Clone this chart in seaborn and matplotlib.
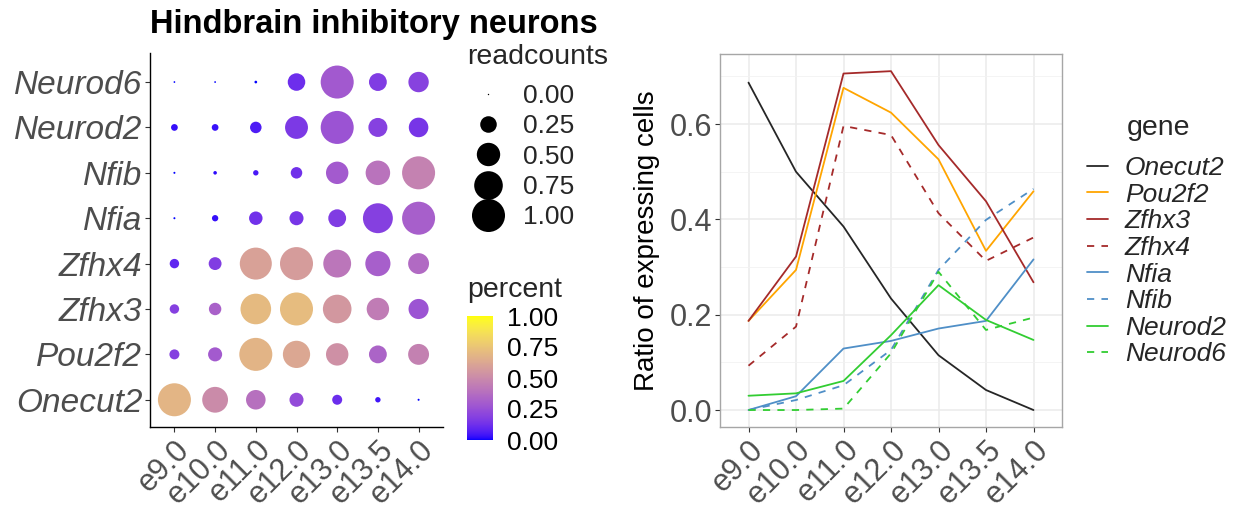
import numpy as np
import pandas as pd
import matplotlib
matplotlib.use("Agg")
import matplotlib.pyplot as plt
import seaborn as sns
from matplotlib.colors import ListedColormap, Normalize
from matplotlib.cm import ScalarMappable
from matplotlib.lines import Line2D
from matplotlib.ticker import FixedLocator

# ---------------- data ----------------
stages = ["e9.0", "e10.0", "e11.0", "e12.0", "e13.0", "e13.5", "e14.0"]
genes = ["Onecut2", "Pou2f2", "Zfhx3", "Zfhx4", "Nfia", "Nfib", "Neurod2", "Neurod6"]

# ratio of expressing cells (right panel; also the "percent" colour on the left)
ratio_onecut2 = [0.687, 0.500, 0.385, 0.234, 0.115, 0.042, 0.000]
ratio_pou2f2 = [0.187, 0.294, 0.676, 0.624, 0.526, 0.334, 0.459]
ratio_zfhx3 = [0.187, 0.322, 0.706, 0.711, 0.556, 0.438, 0.268]
ratio_zfhx4 = [0.093, 0.175, 0.596, 0.577, 0.413, 0.313, 0.362]
ratio_nfia = [0.000, 0.029, 0.129, 0.145, 0.171, 0.187, 0.316]
ratio_nfib = [0.000, 0.021, 0.052, 0.126, 0.294, 0.399, 0.464]
ratio_neurod2 = [0.030, 0.035, 0.061, 0.157, 0.262, 0.189, 0.147]
ratio_neurod6 = [0.000, 0.000, 0.003, 0.119, 0.290, 0.168, 0.194]

# scaled read counts (dot size on the left)
reads_onecut2 = [1.00, 0.61, 0.35, 0.18, 0.09, 0.025, 0.002]
reads_pou2f2 = [0.09, 0.18, 1.00, 0.68, 0.46, 0.29, 0.40]
reads_zfhx3 = [0.08, 0.14, 0.86, 1.00, 0.75, 0.46, 0.37]
reads_zfhx4 = [0.08, 0.15, 0.94, 1.00, 0.71, 0.58, 0.40]
reads_nfia = [0.002, 0.035, 0.165, 0.18, 0.29, 0.82, 1.00]
reads_nfib = [0.002, 0.01, 0.025, 0.12, 0.46, 0.55, 1.00]
reads_neurod2 = [0.04, 0.04, 0.12, 0.48, 1.00, 0.33, 0.35]
reads_neurod6 = [0.001, 0.001, 0.005, 0.28, 1.00, 0.29, 0.38]

size_legend_values = [0.00, 0.25, 0.50, 0.75, 1.00]
percent_ticks = [0.00, 0.25, 0.50, 0.75, 1.00]
ratio_ticks = [0.0, 0.2, 0.4, 0.6]

ratios = [ratio_onecut2, ratio_pou2f2, ratio_zfhx3, ratio_zfhx4,
          ratio_nfia, ratio_nfib, ratio_neurod2, ratio_neurod6]
reads = [reads_onecut2, reads_pou2f2, reads_zfhx3, reads_zfhx4,
         reads_nfia, reads_nfib, reads_neurod2, reads_neurod6]

df = pd.DataFrame({
    "gene": pd.Categorical(np.repeat(genes, len(stages)), categories=genes),
    "stage": pd.Categorical(stages * len(genes), categories=stages),
    "percent": np.concatenate(ratios),
    "readcounts": np.concatenate(reads),
})
df_line = pd.DataFrame({
    "gene": np.repeat(genes, len(stages)),
    "stage": stages * len(genes),
    "ratio": np.concatenate(ratios),
})

# ---------------- style ----------------
sns.set_theme(style="white")
plt.rcParams["font.family"] = ["Liberation Sans", "DejaVu Sans"]

W, H = 1247, 511
fig = plt.figure(figsize=(W / 100, H / 100), dpi=100)


def fbox(x0, y0, x1, y1):
    return [x0 / W, 1 - y1 / H, (x1 - x0) / W, (y1 - y0) / H]


# Lab-interpolated blue -> yellow gradient (like ggplot scale_colour_gradient)
_M = np.array([[0.4124564, 0.3575761, 0.1804375],
               [0.2126729, 0.7151522, 0.0721750],
               [0.0193339, 0.1191920, 0.9503041]])
_WP = np.array([0.95047, 1.0, 1.08883])


def srgb_to_lab(rgb):
    rgb = np.asarray(rgb, float)
    lin = np.where(rgb <= 0.04045, rgb / 12.92, ((rgb + 0.055) / 1.055) ** 2.4)
    t = (_M @ lin) / _WP
    d = 6 / 29
    f = np.where(t > d ** 3, np.cbrt(t), t / (3 * d * d) + 4 / 29)
    return np.array([116 * f[1] - 16, 500 * (f[0] - f[1]), 200 * (f[1] - f[2])])


def lab_to_srgb(lab):
    L, a, b = lab
    fy = (L + 16) / 116
    f = np.array([fy + a / 500, fy, fy - b / 200])
    d = 6 / 29
    t = np.where(f > d, f ** 3, 3 * d * d * (f - 4 / 29))
    lin = np.clip(np.linalg.inv(_M) @ (t * _WP), 0, 1)
    rgb = np.where(lin <= 0.0031308, 12.92 * lin, 1.055 * lin ** (1 / 2.4) - 0.055)
    return np.clip(rgb, 0, 1)


lab_lo = srgb_to_lab([0, 0, 1])
lab_hi = srgb_to_lab([1, 1, 0])
cmap = ListedColormap([lab_to_srgb(lab_lo + (lab_hi - lab_lo) * u) for u in np.linspace(0, 1, 256)])

GRAY_TXT = "#4D4D4D"
SMIN, SMAX = 1.0, 565.0
FS_LEG = 19
FS_LEG_TITLE = 20.5

# ---------------- left: dot plot ----------------
ax1 = fig.add_axes(fbox(150, 53, 443, 427))
sns.scatterplot(data=df, x="stage", y="gene", hue="percent", hue_norm=(0, 1),
                palette=cmap, size="readcounts", size_norm=(0, 1),
                sizes=(SMIN, SMAX), linewidth=0, legend=False, ax=ax1)
ax1.set_xlim(-0.6, len(stages) - 0.4)
ax1.set_ylim(-0.6, len(genes) - 0.36)
ax1.set_xlabel("")
ax1.set_ylabel("")
for s in ["top", "right"]:
    ax1.spines[s].set_visible(False)
for s in ["left", "bottom"]:
    ax1.spines[s].set_color("black")
    ax1.spines[s].set_linewidth(1.0)
ax1.tick_params(axis="both", length=3.5, width=0.8, color="#333333", left=True, bottom=True)
ax1.tick_params(axis="y", labelsize=24, labelcolor=GRAY_TXT, pad=2)
ax1.tick_params(axis="x", labelsize=22, labelcolor=GRAY_TXT, pad=2)
for t in ax1.get_yticklabels():
    t.set_fontstyle("italic")
for t in ax1.get_xticklabels():
    t.set_rotation(45)
    t.set_ha("right")
    t.set_va("top")
    t.set_rotation_mode("anchor")

fig.text(150 / W, 1 - 25 / H, "Hindbrain inhibitory neurons", fontsize=23.5,
         fontweight="bold", ha="left", va="center", color="black")

# size legend
fig.text(467 / W, 1 - 57 / H, "readcounts", fontsize=FS_LEG_TITLE, ha="left", va="center")
size_handles = [Line2D([], [], ls="", marker="o", color="black", markeredgewidth=0,
                       markersize=np.sqrt(SMIN + (SMAX - SMIN) * v))
                for v in size_legend_values]
leg1 = fig.legend(size_handles, [f"{v:.2f}" for v in size_legend_values],
                  loc="upper left", bbox_to_anchor=(467 / W, 1 - 84 / H),
                  frameon=False, fontsize=FS_LEG, borderpad=0, borderaxespad=0,
                  handlelength=1.6, handletextpad=0.53, labelspacing=0.24)

# colour bar
cax = fig.add_axes(fbox(467, 316, 493, 440))
cb = fig.colorbar(ScalarMappable(norm=Normalize(0, 1), cmap=cmap), cax=cax)
cb.outline.set_visible(False)
cb.set_ticks(percent_ticks)
cb.set_ticklabels([f"{v:.2f}" for v in percent_ticks])
cax.tick_params(axis="y", direction="in", color="white", length=5, width=0.8,
                left=True, right=True, labelsize=FS_LEG, labelcolor="black", pad=10)
fig.text(467 / W, 1 - 290 / H, "percent", fontsize=FS_LEG_TITLE, ha="left", va="center")

# ---------------- right: line plot ----------------
line_colors = {"Onecut2": "#262626", "Pou2f2": "#FFA500", "Zfhx3": "#A52A2A",
               "Zfhx4": "#A52A2A", "Nfia": "#4F8FC7", "Nfib": "#4F8FC7",
               "Neurod2": "#32CD32", "Neurod6": "#32CD32"}
line_dashes = {"Onecut2": "", "Pou2f2": "", "Zfhx3": "", "Zfhx4": (4, 4),
               "Nfia": "", "Nfib": (4, 4), "Neurod2": "", "Neurod6": (4, 4)}

ax2 = fig.add_axes(fbox(720, 54, 1062, 427))
sns.lineplot(data=df_line, x="stage", y="ratio",
             hue="gene", style="gene", hue_order=genes, style_order=genes,
             palette=line_colors, dashes=line_dashes, linewidth=1.3,
             errorbar=None, ax=ax2)
ax2.set_xlim(-0.6, len(stages) - 0.4)
ax2.set_ylim(-0.0356, 0.747)
ax2.set_yticks(ratio_ticks)
ax2.set_yticklabels([f"{v:.1f}" for v in ratio_ticks])
ax2.yaxis.set_minor_locator(FixedLocator([0.1, 0.3, 0.5, 0.7]))
ax2.set_axisbelow(True)
ax2.grid(which="major", color="#EBEBEB", linewidth=1.1)
ax2.grid(which="minor", axis="y", color="#F2F2F2", linewidth=0.6)
ax2.tick_params(which="minor", length=0)
ax2.tick_params(which="major", length=3.5, width=0.8, color="#333333",
                left=True, bottom=True)
ax2.tick_params(axis="y", labelsize=22, labelcolor=GRAY_TXT, pad=2)
ax2.tick_params(axis="x", labelsize=22, labelcolor=GRAY_TXT, pad=2)
for t in ax2.get_xticklabels():
    t.set_rotation(45)
    t.set_ha("right")
    t.set_va("top")
    t.set_rotation_mode("anchor")
for s in ax2.spines.values():
    s.set_color("#A6A6A6")
    s.set_linewidth(1.0)
ax2.set_xlabel("")
ax2.set_ylabel("Ratio of expressing cells", fontsize=20, color="black")
ax2.yaxis.set_label_coords(-0.175, 0.5)

fig.text(1127 / W, 1 - 128 / H, "gene", fontsize=FS_LEG_TITLE, ha="left", va="center")
sns.move_legend(ax2, "upper left", bbox_to_anchor=(1087 / W, 1 - 156 / H),
                bbox_transform=fig.transFigure, frameon=False, title=None,
                fontsize=FS_LEG, handlelength=0.8, handletextpad=0.64,
                labelspacing=0.1, borderpad=0, borderaxespad=0)
leg2 = ax2.get_legend()
for t in leg2.get_texts():
    t.set_fontstyle("italic")
for h in leg2.legend_handles:
    h.set_linewidth(1.3)

fig.savefig("out.png", dpi=100)
